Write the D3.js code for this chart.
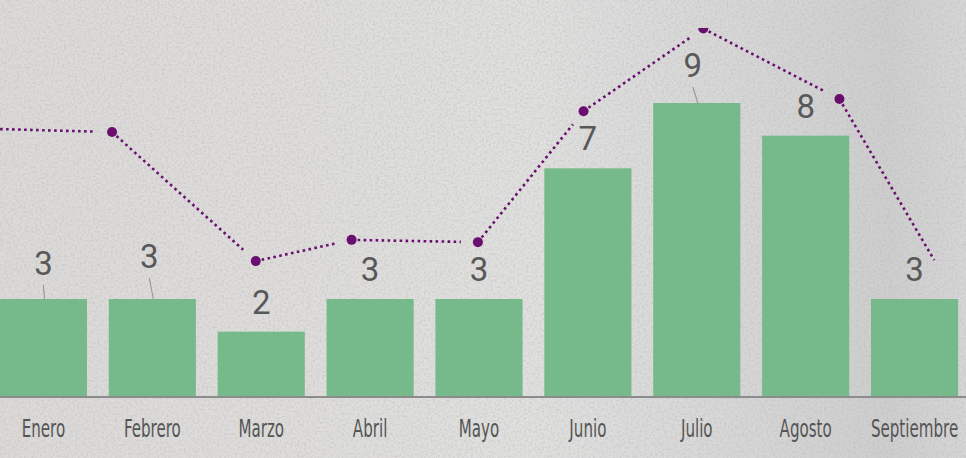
<!DOCTYPE html>
<html>
<head>
<meta charset="utf-8">
<script src="https://cdn.jsdelivr.net/npm/d3@7"></script>
<style>
  html, body { margin: 0; padding: 0; overflow: hidden; }
  body { width: 966px; height: 458px; }
  .label { font-family: Roboto, "Noto Sans", sans-serif; fill: #585858; font-size: 33px; }
  .tick_text { font-family: "Liberation Sans Narrow", "DejaVu Sans Condensed", sans-serif; fill: #555; font-size: 24px; }
</style>
</head>
<body>
<div id="container"><svg></svg></div>
<script>
let width = 966;
let height = 458;

// bar data
let months = ['Enero', 'Febrero', 'Marzo', 'Abril', 'Mayo', 'Junio', 'Julio', 'Agosto', 'Septiembre'];
let counts = [3, 3, 2, 3, 3, 7, 9, 8, 3];

// dotted trend line (position in month units, value on the same axis)
let trendPos = [-1.5, 0.63, 1.95, 2.83, 3.99, 4.96, 6.06, 7.31, 8.26];
let trendValues = [8.3, 8.11, 4.16, 4.81, 4.74, 8.75, 11.28, 9.12, 3.74];

let barColor = '#76b98a';
let lineColor = '#6a0f70';

function draw_main() {
    let svg = d3.select('#container').select('svg')
        .attr('width', width)
        .attr('height', height);

    let defs = svg.append('defs');

    // concrete-ish background
    let grad = defs.append('linearGradient').attr('id', 'bg')
        .attr('x1', 0).attr('x2', 1).attr('y1', 0).attr('y2', 0);
    [[0, '#dbdad8'], [0.3, '#dedddb'], [0.55, '#e0e0df'], [0.8, '#d5d5d5'], [0.92, '#cecece'], [1, '#d6d6d6']]
        .forEach(s => grad.append('stop').attr('offset', s[0]).attr('stop-color', s[1]));

    let noise = defs.append('filter').attr('id', 'noise')
        .attr('x', 0).attr('y', 0).attr('width', '100%').attr('height', '100%');
    noise.append('feTurbulence')
        .attr('type', 'fractalNoise')
        .attr('baseFrequency', 0.45)
        .attr('numOctaves', 3)
        .attr('seed', 7);
    noise.append('feColorMatrix')
        .attr('type', 'matrix')
        .attr('values', '0 0 0 0 0.45  0 0 0 0 0.45  0 0 0 0 0.45  0 0 0 -2.2 1.3');

    defs.append('clipPath').attr('id', 'plotclip')
        .append('rect').attr('x', 0).attr('y', 28).attr('width', width).attr('height', height - 28);

    svg.append('rect')
        .attr('width', width).attr('height', height)
        .attr('fill', 'url(#bg)');
    svg.append('rect')
        .attr('width', width).attr('height', height)
        .attr('filter', 'url(#noise)')
        .attr('opacity', 0.4);

    // scales
    let x = d3.scaleBand()
        .domain(months)
        .range([-11, 969])
        .paddingInner(0.2)
        .paddingOuter(0.1);
    let y = d3.scaleLinear()
        .domain([0, 12])
        .range([397, 5]);
    let xl = d3.scaleLinear()
        .domain([0, months.length - 1])
        .range([x(months[0]) + x.bandwidth() / 2, x(months[months.length - 1]) + x.bandwidth() / 2]);

    let data = months.map((m, i) => ({month: m, value: counts[i]}));

    // bars
    svg.append('g')
        .selectAll('rect')
        .data(data)
        .enter().append('rect')
        .attr('x', d => x(d.month))
        .attr('y', d => y(d.value))
        .attr('width', x.bandwidth())
        .attr('height', d => y(0) - y(d.value))
        .attr('fill', barColor);

    // x axis
    let axis_x = d3.axisBottom(x).tickSize(0).tickPadding(0);
    let gx = svg.append('g')
        .attr('transform', `translate(0, ${y(0)})`)
        .call(axis_x);
    gx.select('.domain')
        .attr('d', `M0,0H${width}`)
        .attr('stroke', '#8c8c8c')
        .attr('stroke-width', 2);
    gx.selectAll('.tick text')
        .attr('class', 'tick_text')
        .attr('y', 0)
        .attr('dy', 0)
        .attr('transform', 'translate(0, 40) scale(0.7, 1)')
        .attr('font-family', null)
        .attr('font-size', null)
        .attr('fill', null);

    // value labels (some lifted with a short leader line)
    let lift = {'Enero': [0, 6], 'Febrero': [-3, 13], 'Julio': [-4, 8]};
    let lg = svg.append('g');
    data.forEach(d => {
        let cx = x(d.month) + x.bandwidth() / 2;
        let top = y(d.value);
        let sh = lift[d.month] || [0, 0];
        let by = top - 18 - sh[1];
        if (lift[d.month]) {
            lg.append('line')
                .attr('x1', cx + sh[0]).attr('y1', by + 10)
                .attr('x2', cx + 1).attr('y2', top)
                .attr('stroke', '#9a9a9a')
                .attr('stroke-width', 1.2);
        }
        lg.append('text')
            .attr('class', 'label')
            .attr('x', cx + sh[0])
            .attr('y', by)
            .attr('text-anchor', 'middle')
            .text(d.value);
    });

    // trend line: separate dotted segments that stop short of the next dot
    let pts = trendPos.map((p, i) => [xl(p), y(trendValues[i])]);
    let gap = 17;
    let tg = svg.append('g').attr('clip-path', 'url(#plotclip)');
    for (let i = 0; i < pts.length - 1; i++) {
        let a = pts[i], b = pts[i + 1];
        let dx = b[0] - a[0], dy = b[1] - a[1];
        let len = Math.sqrt(dx * dx + dy * dy);
        let k = (len - gap) / len;
        tg.append('line')
            .attr('x1', a[0]).attr('y1', a[1])
            .attr('x2', a[0] + dx * k).attr('y2', a[1] + dy * k)
            .attr('stroke', lineColor)
            .attr('stroke-width', 2.6)
            .attr('stroke-dasharray', '2.6 3.4');
    }
    tg.selectAll('circle')
        .data(pts.slice(0, -1))
        .enter().append('circle')
        .attr('cx', d => d[0])
        .attr('cy', d => d[1])
        .attr('r', 5)
        .attr('fill', lineColor);
}

draw_main();
</script>
</body>
</html>
